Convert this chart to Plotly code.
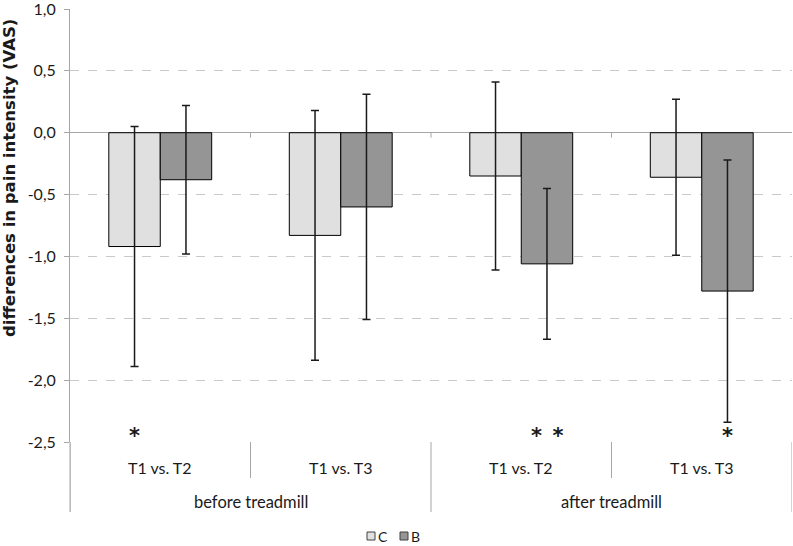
import plotly.graph_objects as go

# ---- data ----
inner_labels = ["T1 vs. T2", "T1 vs. T3", "T1 vs. T2", "T1 vs. T3"]
group_labels = ["before treadmill", "after treadmill"]
series_names = ["C", "B"]
c_vals = [-0.92, -0.83, -0.35, -0.36]
c_err = [0.97, 1.01, 0.76, 0.63]
b_vals = [-0.38, -0.60, -1.06, -1.28]
b_err = [0.60, 0.91, 0.61, 1.06]
c_sig = ["*", "", "", ""]
b_sig = ["", "", "* *", "*"]
y_ticks = [-2.5, -2.0, -1.5, -1.0, -0.5, 0.0, 0.5, 1.0]

FONT = "Lato"
TXT = "#1a1a1a"
GRID = "#c9c9c9"
AXIS = "#a6a6a6"
COL_C = "#e0e0e0"
COL_B = "#959595"
bargap = 0.43
bar_w = (1 - bargap) / 2

# layout geometry (pixels)
W, H = 793, 546
LEFT, RIGHT_EDGE, TOP, BOTTOM = 70, 792, 9, 442
plot_w = RIGHT_EDGE - LEFT
plot_h = BOTTOM - TOP


def px_x(px):
    return (px - LEFT) / plot_w


def px_y(py):
    return (BOTTOM - py) / plot_h


x = list(range(len(inner_labels)))
tick_text = [f"{v:.1f}".replace(".", ",") for v in y_ticks]

fig = go.Figure()
for name, vals, errs, col in ((series_names[0], c_vals, c_err, COL_C),
                              (series_names[1], b_vals, b_err, COL_B)):
    fig.add_trace(go.Bar(
        x=x, y=vals, name=name,
        marker=dict(color=col, line=dict(color="#000000", width=1)),
        error_y=dict(type="data", array=errs, symmetric=True, color="#1a1a1a", thickness=1.5, width=4),
    ))

ymin, ymax = y_ticks[0], y_ticks[-1]

# significance markers
def star_text(s):
    return "<b>" + s.replace(" ", "\u2002") + "</b>"

for i in x:
    for sig, off in ((c_sig[i], -bar_w / 2), (b_sig[i], bar_w / 2)):
        if sig:
            fig.add_annotation(x=i + off, y=ymin, text=star_text(sig), showarrow=False,
                               yanchor="bottom", yshift=-8,
                               font=dict(size=21, color=TXT, family="DejaVu Sans"))

# category labels
for i, lab in enumerate(inner_labels):
    fig.add_annotation(x=i, y=px_y(467), xref="x", yref="paper", text=lab, showarrow=False,
                       yanchor="middle", font=dict(size=16, color=TXT, family=FONT))
for g, lab in enumerate(group_labels):
    fig.add_annotation(x=2 * g + 0.5, y=px_y(502), xref="x", yref="paper", text=lab, showarrow=False,
                       yanchor="middle", font=dict(size=16.5, color=TXT, family=FONT))

# dividers
for b in [-0.5, 0.5, 1.5, 2.5, 3.5]:
    is_long = b in (-0.5, 1.5, 3.5)
    fig.add_shape(type="line", xref="x", yref="paper", x0=b, x1=b, y0=0,
                  y1=px_y(512) if is_long else px_y(478), line=dict(color=AXIS, width=1))
    if b not in (-0.5, 3.5):
        fig.add_shape(type="line", xref="x", yref="y", x0=b, x1=b, y0=0, y1=-0.04,
                      line=dict(color=AXIS, width=1))

# y axis line extension
fig.add_shape(type="line", xref="paper", yref="paper", x0=0, x1=0, y0=0, y1=px_y(512),
              line=dict(color=AXIS, width=1))

# y title
fig.add_annotation(xref="paper", yref="paper", x=px_x(9), y=px_y(178),
                   text="<b>differences in pain intensity (VAS)</b>", textangle=-90, showarrow=False,
                   xanchor="center", yanchor="middle", font=dict(size=16.5, color=TXT, family="DejaVu Sans"))

# legend (manual, compact like the original)
for name, col, bx in ((series_names[0], COL_C, 367), (series_names[1], COL_B, 400)):
    fig.add_shape(type="rect", xref="paper", yref="paper",
                  x0=px_x(bx), x1=px_x(bx + 8), y0=px_y(532), y1=px_y(540),
                  fillcolor=col, line=dict(color="#404040", width=1))
    fig.add_annotation(xref="paper", yref="paper", x=px_x(bx + 9), y=px_y(536),
                       text=name, showarrow=False, xanchor="left", yanchor="middle",
                       font=dict(size=14, color=TXT, family=FONT))

fig.update_layout(
    width=W, height=H,
    margin=dict(l=LEFT, r=W - RIGHT_EDGE, t=TOP, b=H - BOTTOM, autoexpand=False),
    paper_bgcolor="white", plot_bgcolor="white",
    barmode="group", bargap=bargap, bargroupgap=0,
    font=dict(family=FONT, size=16, color=TXT),
    showlegend=False,
    xaxis=dict(range=[-0.5, 3.5], showticklabels=False, showgrid=False, zeroline=False,
               showline=False, ticks="", automargin=False),
    yaxis=dict(range=[ymin, ymax], tickvals=y_ticks, ticktext=tick_text, automargin=False,
               ticklabeloverflow="allow", ticklabelstandoff=5,
               showgrid=True, gridcolor=GRID, griddash="dash", gridwidth=1,
               zeroline=True, zerolinecolor=AXIS, zerolinewidth=1.3,
               showline=True, linecolor=AXIS, linewidth=1,
               ticks="outside", ticklen=5, tickcolor=AXIS,
               tickfont=dict(size=16, color=TXT, family=FONT)),
)

fig.write_html("out.html", config={"displayModeBar": False},
               post_script="document.body.style.margin='0';")
